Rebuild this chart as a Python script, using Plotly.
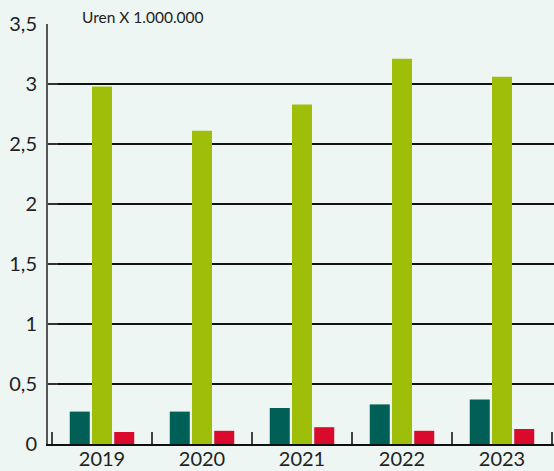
import plotly.graph_objects as go

years = ["2019", "2020", "2021", "2022", "2023"]
serie_a = [0.27, 0.27, 0.30, 0.33, 0.37]
serie_b = [2.98, 2.61, 2.83, 3.21, 3.06]
serie_c = [0.10, 0.11, 0.14, 0.11, 0.125]
grid_vals = [0.5, 1, 1.5, 2, 2.5, 3]
y_ticks = [0, 0.5, 1, 1.5, 2, 2.5, 3, 3.5]

bg = "#edf6f2"
colors = ["#005f56", "#9fbe0a", "#d90a2c"]

fig = go.Figure()
for vals, col in zip([serie_a, serie_b, serie_c], colors):
    fig.add_trace(go.Bar(x=years, y=vals, marker_color=col, marker_line_width=0))

# gridlines onder de balken
for g in grid_vals:
    fig.add_shape(type="line", xref="paper", yref="y", x0=0, x1=1, y0=g, y1=g,
                  line=dict(color="#111111", width=2), layer="below")

fig.update_layout(
    width=554, height=471,
    paper_bgcolor=bg, plot_bgcolor=bg,
    margin=dict(l=48, r=0, t=24, b=27, autoexpand=False),
    barmode="group", bargap=0.333, bargroupgap=0.1,
    showlegend=False,
    separators=",.",
    font=dict(family="Lato", color="#222222", size=20),
    annotations=[dict(text="Uren X 1.000.000", xref="paper", yref="paper",
                      x=0.063, y=1.017, xanchor="left", yanchor="middle",
                      showarrow=False, font=dict(size=15.5, color="#222222"))],
)
fig.update_yaxes(
    range=[0, 3.5], tickvals=y_ticks, showgrid=False, zeroline=False,
    showline=True, linecolor="#555555", linewidth=2, automargin=False,
    ticks="inside", ticklen=10, tickcolor="#333333", tickwidth=2,
    ticklabelstandoff=5,
)
fig.update_xaxes(
    range=[-0.54, 4.52], showgrid=False, showline=True, linecolor="#111111",
    linewidth=2, ticks="inside", tickson="boundaries", ticklen=12,
    tickcolor="#444444", tickwidth=2, automargin=False,
    ticklabelstandoff=-4,
)

# body-marge van de pagina weghalen
fig.write_html(
    "out.html",
    config={"displayModeBar": False},
    post_script="document.body.style.margin='0';document.body.style.background='%s';" % bg,
)
